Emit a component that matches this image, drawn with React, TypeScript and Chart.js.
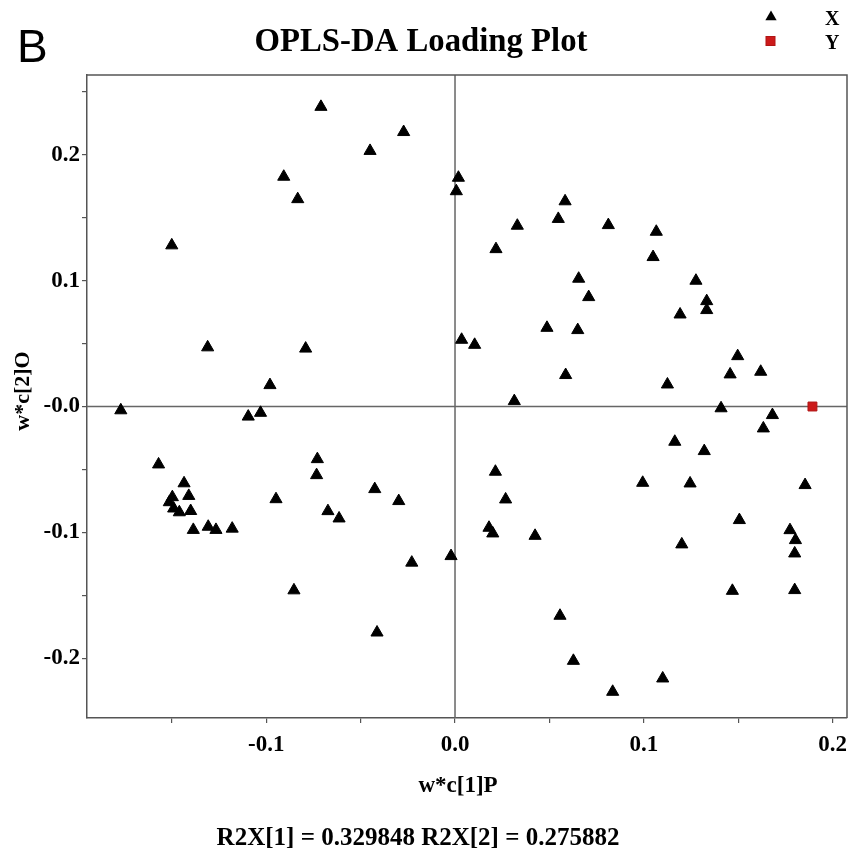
import React, { useEffect, useRef } from "react";
import { Chart, registerables } from "chart.js";

Chart.register(...registerables);

// X-block loadings: w*c[1]P (horizontal) and w*c[2]O (vertical)
const xLoadP: number[] = [
  -0.177, -0.150, -0.131, -0.098, -0.1095, -0.103, -0.157, -0.1435, -0.141, -0.1497,
  -0.1513, -0.149, -0.146, -0.140, -0.1386, -0.1307, -0.1266, -0.118, -0.0948, -0.0853,
  -0.0907, -0.0833, -0.071, -0.0272, -0.045, 0.0018, 0.0007, 0.0583, 0.0547, 0.033,
  0.0217, 0.0655, -0.0791, 0.0035, 0.0104, 0.0487, 0.065, 0.0586, 0.0314, -0.0729,
  -0.0733, -0.0425, -0.0298, -0.0673, -0.0614, -0.0229, -0.0021, -0.0413, 0.0214, 0.0268,
  0.018, 0.020, 0.0424, 0.0556, 0.0627, 0.0812, 0.1066, 0.1049, 0.0708, 0.1276,
  0.1333, 0.1333, 0.1192, 0.1497, 0.1457, 0.1619, 0.1125, 0.1409, 0.1681, 0.1633,
  0.1164, 0.132, 0.0994, 0.1245, 0.1854, 0.1506, 0.1774, 0.1803, 0.1799, 0.1201,
  0.1469, 0.1799, 0.110, 0.0835,
];
const xLoadO: number[] = [
  -0.003, 0.128, 0.047, 0.017, -0.008, -0.005, -0.046, -0.061, -0.071, -0.072,
  -0.076, -0.081, -0.084, -0.083, -0.098, -0.0955, -0.098, -0.097, -0.0736, -0.146,
  0.1825, 0.1647, 0.238, 0.218, 0.203, 0.1817, 0.171, 0.163, 0.149, 0.1436,
  0.125, 0.1015, 0.046, 0.053, 0.049, 0.0625, 0.0607, 0.025, 0.0043, -0.0418,
  -0.0545, -0.0656, -0.0751, -0.0831, -0.0889, -0.124, -0.1188, -0.1795, -0.0518, -0.0738,
  -0.0963, -0.1008, -0.1027, -0.1662, -0.202, 0.1441, 0.1388, 0.1187, 0.0869, 0.0999,
  0.0837, 0.0766, 0.0731, 0.040, 0.0255, 0.0276, 0.0175, -0.0014, -0.0068, -0.0174,
  -0.028, -0.0354, -0.0606, -0.0611, -0.0624, -0.0902, -0.0982, -0.1061, -0.1167, -0.1095,
  -0.1464, -0.1458, -0.216, -0.2266,
];

// Y-block loading
const yLoadP: number[] = [0.1893];
const yLoadO: number[] = [0.0];

const seriesNames = ["X", "Y"];
const chartTitle = "OPLS-DA Loading Plot";
const panelLabel = "B";
const xAxisTitle = "w*c[1]P";
const yAxisTitle = "w*c[2]O";
const footnote = "R2X[1] = 0.329848 R2X[2] = 0.275882";

const X_MIN = -0.1949;
const X_MAX = 0.2076;
const Y_MIN = -0.2474;
const Y_MAX = 0.2633;
const TICK_STEP = 0.05;

const SERIF = '"Times New Roman", "Liberation Serif", serif';
const AXIS_COLOR = "#555555";

function fmtTick(v: number, zeroText: string): string {
  const t = v * 10;
  if (Math.abs(t - Math.round(t)) > 1e-6) return "";
  const r = Math.round(t) / 10;
  if (Math.abs(r) < 1e-9) return zeroText;
  return r.toFixed(1);
}

const decorPlugin = {
  id: "decor",
  beforeDatasetsDraw(chart: any) {
    const { ctx, chartArea, scales } = chart;
    const x0 = scales.x.getPixelForValue(0);
    const y0 = scales.y.getPixelForValue(0);
    ctx.save();
    ctx.strokeStyle = "#666666";
    ctx.lineWidth = 1.5;
    ctx.beginPath();
    ctx.moveTo(x0, chartArea.top);
    ctx.lineTo(x0, chartArea.bottom);
    ctx.moveTo(chartArea.left, y0);
    ctx.lineTo(chartArea.right, y0);
    ctx.stroke();
    // top and right frame
    ctx.strokeStyle = AXIS_COLOR;
    ctx.beginPath();
    ctx.moveTo(chartArea.left, chartArea.top);
    ctx.lineTo(chartArea.right, chartArea.top);
    ctx.lineTo(chartArea.right, chartArea.bottom);
    ctx.stroke();
    ctx.restore();
  },
  afterDraw(chart: any) {
    const { ctx } = chart;
    ctx.save();
    ctx.fillStyle = "#000";
    ctx.textBaseline = "alphabetic";
    // Panel label
    ctx.font = '46px "Liberation Sans", Arial, sans-serif';
    ctx.textAlign = "left";
    ctx.fillText(panelLabel, 17, 62);
    // Title
    ctx.font = `bold 33px ${SERIF}`;
    ctx.textAlign = "center";
    ctx.fillText(chartTitle, 421, 51, 333);
    // Axis titles
    ctx.font = `bold 23px ${SERIF}`;
    ctx.fillText(xAxisTitle, 458, 792);
    ctx.save();
    ctx.translate(29, 391);
    ctx.rotate(-Math.PI / 2);
    ctx.font = `bold 22px ${SERIF}`;
    ctx.fillText(yAxisTitle, 0, 0);
    ctx.restore();
    // Footnote
    ctx.font = `bold 25px ${SERIF}`;
    ctx.fillText(footnote, 418, 845, 423);
    // Legend
    const ds = chart.data.datasets;
    const legendY = [17, 41];
    ds.forEach((d: any, i: number) => {
      const ly = legendY[i];
      const style = d.pointStyle;
      const r = 6.5;
      ctx.fillStyle = d.backgroundColor;
      ctx.strokeStyle = d.borderColor;
      ctx.lineWidth = 1;
      if (style === "triangle") {
        ctx.beginPath();
        ctx.moveTo(771, ly - r);
        ctx.lineTo(771 + r * 0.866, ly + r / 2);
        ctx.lineTo(771 - r * 0.866, ly + r / 2);
        ctx.closePath();
        ctx.fill();
      } else {
        ctx.fillRect(766, ly - 4.5, 9, 9);
        ctx.strokeRect(766, ly - 4.5, 9, 9);
      }
      ctx.fillStyle = "#000";
      ctx.font = `bold 20px ${SERIF}`;
      ctx.textAlign = "left";
      ctx.fillText(seriesNames[i], 825, ly + 8);
    });
    ctx.restore();
  },
};

const CANVAS_W = 855; // chart keeps an 8px point-overflow margin on the right; extra width is hidden
const CANVAS_H = 852;

export default function App() {
  const canvasRef = useRef<HTMLCanvasElement | null>(null);

  useEffect(() => {
    if (!canvasRef.current) return;
    const xPoints = xLoadP.map((v, i) => ({ x: v, y: xLoadO[i] }));
    const yPoints = yLoadP.map((v, i) => ({ x: v, y: yLoadO[i] }));
    const chart = new Chart(canvasRef.current, {
      type: "scatter",
      data: {
        datasets: [
          {
            label: seriesNames[0],
            data: xPoints,
            pointStyle: "triangle",
            pointRadius: 7,
            pointHoverRadius: 7,
            backgroundColor: "#000000",
            borderColor: "#000000",
            borderWidth: 1,
          },
          {
            label: seriesNames[1],
            data: yPoints,
            pointStyle: "rect",
            pointRadius: 6.3,
            pointHoverRadius: 6.3,
            backgroundColor: "#cc1a1a",
            borderColor: "#b01515",
            borderWidth: 1,
          },
        ],
      },
      options: {
        animation: false,
        responsive: false,
        maintainAspectRatio: false,
        devicePixelRatio: 1,
        layout: { padding: { top: 75, right: 8, left: 0, bottom: 0 } },
        plugins: {
          legend: { display: false },
          title: { display: false },
          tooltip: { enabled: false },
        },
        scales: {
          x: {
            type: "linear",
            min: X_MIN,
            max: X_MAX,
            afterFit: (s: any) => {
              s.height = 134;
              s.paddingRight = 0;
              s.paddingLeft = 0;
            },
            ticks: {
              stepSize: TICK_STEP,
              includeBounds: false,
              autoSkip: false,
              maxRotation: 0,
              padding: 8,
              color: "#000",
              font: { family: SERIF, size: 23, weight: "bold" },
              callback: (v: any) => fmtTick(Number(v), "0.0"),
            },
            grid: {
              display: true,
              drawOnChartArea: false,
              drawTicks: true,
              tickLength: 5,
              color: AXIS_COLOR,
              lineWidth: 1.2,
            },
            border: { display: true, color: AXIS_COLOR, width: 1.5 },
          },
          y: {
            type: "linear",
            min: Y_MIN,
            max: Y_MAX,
            afterFit: (s: any) => {
              s.width = 87;
              s.paddingTop = 0;
              s.paddingBottom = 0;
            },
            ticks: {
              stepSize: TICK_STEP,
              includeBounds: false,
              autoSkip: false,
              padding: 2,
              color: "#000",
              font: { family: SERIF, size: 23, weight: "bold" },
              callback: (v: any) => fmtTick(Number(v), "-0.0"),
            },
            grid: {
              display: true,
              drawOnChartArea: false,
              drawTicks: true,
              tickLength: 5,
              color: AXIS_COLOR,
              lineWidth: 1.2,
            },
            border: { display: true, color: AXIS_COLOR, width: 1.5 },
          },
        },
      },
      plugins: [decorPlugin],
    });
    return () => chart.destroy();
  }, []);

  return (
    <div
      style={{
        position: "absolute",
        left: 0,
        top: 0,
        width: 851,
        height: 852,
        overflow: "hidden",
        background: "#fff",
      }}
    >
      <canvas
        ref={canvasRef}
        width={CANVAS_W}
        height={CANVAS_H}
        style={{ display: "block", width: CANVAS_W, height: CANVAS_H }}
      />
    </div>
  );
}
